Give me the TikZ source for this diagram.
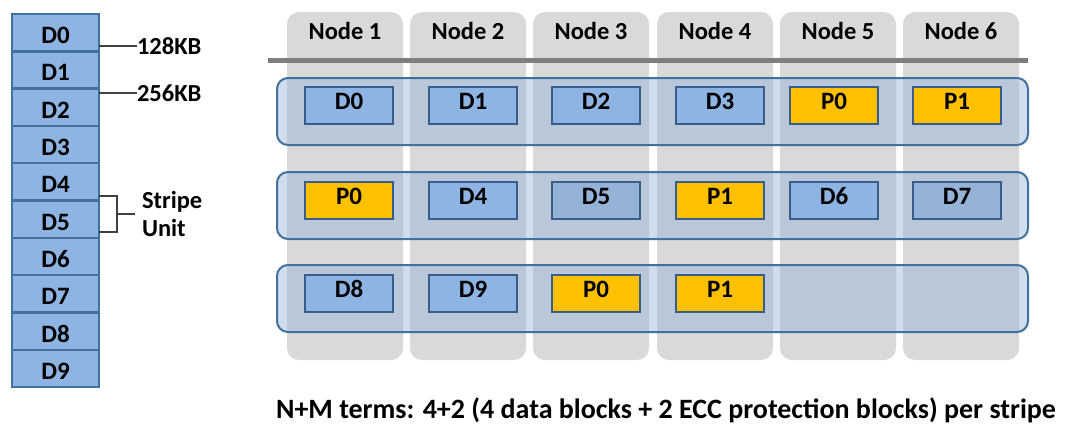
\documentclass[tikz,border=0pt]{standalone}
\usepackage{fontspec}
\setmainfont{Carlito}
\definecolor{colgray}{HTML}{D9D9D9}
\definecolor{stripefill}{HTML}{95B3D7}
\definecolor{stripeline}{HTML}{41719C}
\definecolor{blockblue}{HTML}{8DB4E2}
\definecolor{blockblue2}{HTML}{95B3D7}
\definecolor{blockline}{HTML}{385D8A}
\definecolor{parity}{HTML}{FFC000}
\definecolor{rulegray}{HTML}{7F7F7F}
\definecolor{leaderline}{HTML}{404040}
\begin{document}
\begin{tikzpicture}[x=1pt,y=-1pt,
  every node/.style={inner sep=0pt, outer sep=0pt, font=\fontsize{25}{30}\selectfont\bfseries},
  colbox/.style={fill=colgray, draw=none, rounded corners=12pt, minimum width=116pt, minimum height=348pt, anchor=north west},
  nodelbl/.style={font=\fontsize{24.5}{29}\selectfont\bfseries},
  stripebox/.style={fill=stripefill, fill opacity=0.45, draw=stripeline, draw opacity=1, line width=2pt, rounded corners=11pt, anchor=north west, minimum width=751pt, minimum height=67pt},
  blk/.style={draw=blockline, line width=2.4pt, minimum width=88pt, minimum height=37pt, anchor=north west, text height=16pt, text depth=8pt},
  dblk/.style={blk, fill=blockblue},
  dblkb/.style={blk, fill=blockblue2},
  pblk/.style={blk, fill=parity},
  unitbox/.style={fill=blockblue, draw=stripeline, line width=2.4pt, minimum width=87pt, minimum height=37.3pt, anchor=north west, text height=22pt, text depth=0pt},
  leader/.style={draw=leaderline, line width=2pt},
  sidelbl/.style={anchor=west, font=\fontsize{24.5}{28}\selectfont\bfseries, align=left}
]
\useasboundingbox (0,0) rectangle (1075,424);

% columns (storage nodes)
\foreach \i/\x in {1/287,2/410,3/533,4/657,5/780,6/903} {
  \node[colbox] (col\i) at (\x,12) {};
  \node[nodelbl] (h\i) at (\x+58,31) {Node \i};
}

% separator rule
\coordinate (ruleL) at (268,60);
\coordinate (ruleR) at (1028,60);
\draw[line width=5pt, rulegray] (ruleL) -- (ruleR);

% stripes
\node[stripebox] (s1) at (277,78) {};
\node[stripebox] (s2) at (277,172) {};
\node[stripebox] (s3) at (277,265) {};

% stripe 1
\node[dblk] (r1a) at (305,87) {D0};
\node[dblk] (r1b) at (429,87) {D1};
\node[dblk] (r1c) at (552,87) {D2};
\node[dblk] (r1d) at (676,87) {D3};
\node[pblk] (r1e) at (790,87) {P0};
\node[pblk] (r1f) at (913,87) {P1};

% stripe 2
\node[pblk] (r2a) at (305,182) {P0};
\node[dblk] (r2b) at (429,182) {D4};
\node[dblkb] (r2c) at (552,182) {D5};
\node[pblk] (r2d) at (676,182) {P1};
\node[dblk] (r2e) at (790,182) {D6};
\node[dblkb] (r2f) at (913,182) {D7};

% stripe 3
\node[dblk] (r3a) at (305,275) {D8};
\node[dblk] (r3b) at (429,275) {D9};
\node[pblk] (r3c) at (552,275) {P0};
\node[pblk] (r3d) at (676,275) {P1};

% left column of stripe units
\foreach \k in {0,...,9} {
  \node[unitbox] (u\k) at (12,{14+37.3*\k}) {D\k};
}

% size labels
\node[sidelbl] (l128) at (137,46) {128KB};
\node[sidelbl] (l256) at (137,93) {256KB};
\draw[leader] (u0.east |- l128.west) -- (l128.west);
\draw[leader] (u1.east |- l256.west) -- (l256.west);

% stripe unit bracket
\node[sidelbl] (lsu) at (142,214) {Stripe\\Unit};
\coordinate (bt) at (117,196);
\coordinate (bb) at (117,232);
\coordinate (bm) at (117,214);
\draw[leader] (u4.east |- bt) -- (bt) -- (bb) -- (u5.east |- bb);
\draw[leader] (bm) -- (135,214);

% caption
\node[font=\fontsize{28}{33}\selectfont\bfseries] (cap) at (666,410) {N+M terms: 4+2 (4 data blocks + 2 ECC protection blocks) per stripe};
\end{tikzpicture}
\end{document}
